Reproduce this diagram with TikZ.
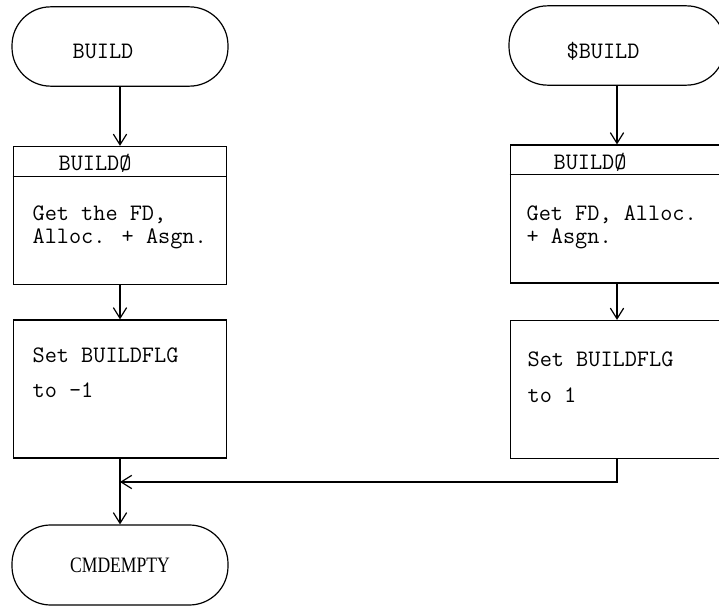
\documentclass[tikz,border=0pt]{standalone}
\usepackage{fontspec}
\setmainfont{Liberation Serif}
\usetikzlibrary{arrows.meta,calc}
\begin{document}
\begin{tikzpicture}[x=0.75pt,y=-0.75pt,
  line width=0.9pt,
  term/.style={draw, rounded corners=29pt, minimum width=162pt, minimum height=59.5pt, inner sep=0pt},
  procbox/.style={draw, minimum width=160pt, minimum height=103.5pt, inner sep=0pt},
  txt/.style={font=\ttfamily\fontsize{17.7}{17.25}\selectfont, anchor=base west, align=left, inner sep=0pt},
  arr/.style={-{Straight Barb[length=8pt,width=10pt]}}]
\clip (0,0) rectangle (719,606);
% left column
\node[term] (t1) at (120,46.5) {};
\node[txt] (t1l) at (72,59) {BUILD};
\node[procbox] (b1) at (120,215.5) {};
\draw ($(b1.north west)+(0,31)$) -- ($(b1.north east)+(0,31)$);
\node[txt] (b1h) at (58,171) {BUILDØ};
\node[txt] (b1t) at (32,244) {Get the FD,\\Alloc. + Asgn.};
\node[procbox] (b2) at (120,389) {};
\node[txt] (b2t) at (32,398) {Set BUILDFLG\\[9pt]to -1};
\node[term, minimum height=60pt, font=\fontsize{16.5}{18}\selectfont] (t3) at (120,565) {\scalebox{0.8}[1]{CMDEMPTY}};
% right column
\node[term] (t2) at (617,45.5) {};
\node[txt] (t2l) at (566,59) {\$BUILD};
\node[procbox] (b3) at (617,214) {};
\draw ($(b3.north west)+(0,30)$) -- ($(b3.north east)+(0,30)$);
\node[txt] (b3h) at (553,170) {BUILDØ};
\node[txt] (b3t) at (526,244) {Get FD, Alloc.\\+ Asgn.};
\node[procbox] (b4) at (617,389.5) {};
\node[txt] (b4t) at (527,403) {Set BUILDFLG\\[10.5pt]to 1};
% connectors
\coordinate (j) at (120,482);
\draw[arr] (t1) -- (b1);
\draw[arr] (b1) -- (b2);
\draw[arr] (b2) -- (t3);
\draw[arr] (t2) -- (b3);
\draw[arr] (b3) -- (b4);
\draw[arr] (b4.south) |- (j);
\end{tikzpicture}
\end{document}
